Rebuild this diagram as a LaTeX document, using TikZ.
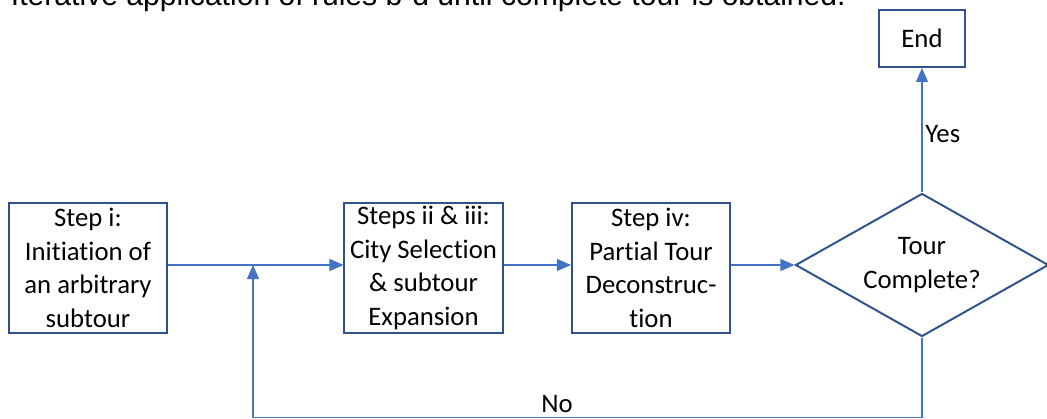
\documentclass[tikz,border=0pt]{standalone}
\usepackage{fontspec}
\setmainfont{Carlito}[Ligatures=NoCommon]
\newfontfamily\notefont{Liberation Sans}
\usetikzlibrary{arrows.meta,shapes.geometric}
\definecolor{boxblue}{HTML}{2F528F}
\definecolor{lineblue}{HTML}{4472C4}
\begin{document}
\begin{tikzpicture}[x=0.025cm,y=-0.025cm,
    every node/.style={font=\fontsize{19}{24}\selectfont,text=black},
    stepbox/.style={draw=boxblue,line width=1.4pt,align=center,inner sep=0pt,minimum width=3.95cm,minimum height=3.225cm},
    arr/.style={lineblue,line width=0.75pt,-{Triangle[length=0.35cm,width=0.3cm]}}]
    \useasboundingbox (0,0) rectangle (1047,419);
    \clip (0,0) rectangle (1047,419);
    \node[anchor=base east,inner sep=0pt,font=\notefont\fontsize{21.4}{25}\selectfont] (note) at (846,6) {e. Iterative application of rules b-d until complete tour is obtained.};
    \node[stepbox] (init) at (88,268) {Step i:\\Initiation of\\an arbitrary\\subtour};
    \node[stepbox] (city) at (423.5,268) {Steps ii \& iii:\\City Selection\\\& subtour\\Expansion};
    \node[stepbox] (part) at (651,268) {Step iv:\\Partial Tour\\Deconstruc-\\tion};
    \node[draw=boxblue,line width=1.4pt,shape=diamond,aspect=1.77,align=center,inner sep=0pt,minimum width=6.325cm,minimum height=3.575cm] (dec) at (922,265) {Tour\\Complete?};
    \node[draw=boxblue,line width=1.4pt,inner sep=0pt,minimum width=2.15cm,minimum height=1.425cm] (end) at (922,38.5) {End};
    \coordinate (merge) at (253,265);
    \coordinate (loop) at (253,417.5);
    \draw[arr] (init.east |- merge) -- (city.west |- merge);
    \draw[arr] (city.east |- merge) -- (part.west |- merge);
    \draw[arr] (part.east |- merge) -- (dec.west);
    \draw[arr] (dec.north) -- node[right,pos=0.47,inner sep=2pt] (yes) {Yes} (end.south);
    \draw[arr] (dec.south) |- (loop) -- (merge);
    \node (no) at (557,404) {No};
\end{tikzpicture}
\end{document}
